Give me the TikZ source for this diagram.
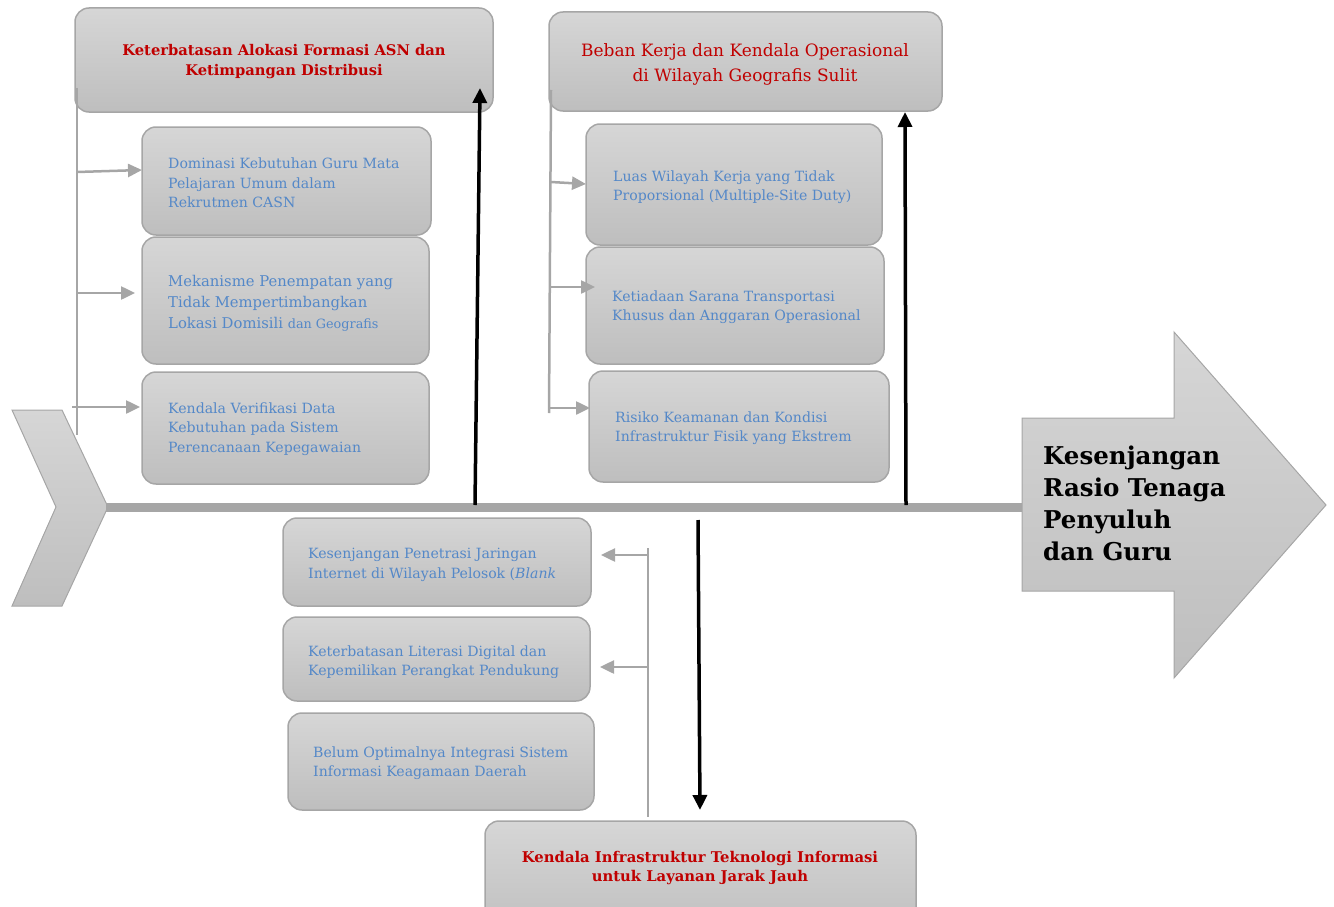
\documentclass[tikz,border=0pt]{standalone}
\usepackage{fontspec}
\setmainfont{DejaVu Serif}
\usetikzlibrary{arrows.meta}
\definecolor{redt}{RGB}{192,0,0}
\definecolor{bluet}{RGB}{84,136,200}
\definecolor{edgec}{RGB}{166,166,166}
\definecolor{topc}{RGB}{214,214,214}
\definecolor{botc}{RGB}{190,190,190}
\begin{document}
\begin{tikzpicture}[x=1pt,y=-1pt,
  boxc/.style={draw=edgec, line width=1.5pt, rounded corners=14pt, top color=topc, bottom color=botc},
  bt/.style={inner sep=0pt, align=left, text=bluet, font=\fontsize{14.1}{19.5}\selectfont, anchor=west},
  hb/.style={inner sep=0pt, align=center, text=redt, font=\bfseries\fontsize{14.7}{20}\selectfont},
  gline/.style={draw=edgec, line width=2.5pt},
  garr/.style={draw=edgec, line width=2.5pt, -{Triangle[length=14pt,width=13pt]}},
  barr/.style={draw=black, line width=3.5pt, -{Triangle[length=15pt,width=14pt]}}
]
\useasboundingbox (0,0) rectangle (1334,907);
\clip (0,0) rectangle (1334,907);

% tail chevron
\draw[draw=edgec, line width=1pt, top color=topc, bottom color=botc]
  (12,410) -- (62,410) -- (108,507) -- (62,606) -- (12,606) -- (56,507) -- cycle;
% spine
\coordinate (sp1) at (106,507);
\coordinate (sp2) at (1024,507);
\draw[draw=edgec, line width=9pt] (sp1) -- (sp2);
% head arrow
\draw[draw=edgec, line width=1pt, top color=topc, bottom color=botc]
  (1022,418) -- (1174,418) -- (1174,332) -- (1326,505) -- (1174,678) -- (1174,591) -- (1022,591) -- cycle;
\node[inner sep=0pt, align=left, anchor=west, font=\bfseries\fontsize{24.5}{32}\selectfont] (res) at (1043,503)
  {Kesenjangan\\Rasio Tenaga\\Penyuluh\\dan Guru};

% ---------- top-left group ----------
\draw[boxc] (75,8) rectangle (493,112);
\node[hb] (h1) at (284,62) {Keterbatasan Alokasi Formasi ASN dan\\Ketimpangan Distribusi};
\draw[boxc] (142,127) rectangle (431,235);
\node[bt] (a1) at (168,183) {Dominasi Kebutuhan Guru Mata\\Pelajaran Umum dalam\\Rekrutmen CASN};
\draw[boxc] (142,237) rectangle (429,364);
\node[bt, font=\fontsize{14.8}{21}\selectfont] (a2) at (168,303) {Mekanisme Penempatan yang\\Tidak Mempertimbangkan\\Lokasi Domisili {\fontsize{12.8}{14}\selectfont dan Geografis}};
\draw[boxc] (142,372) rectangle (429,484);
\node[bt] (a3) at (168,429) {Kendala Verifikasi Data\\Kebutuhan pada Sistem\\Perencanaan Kepegawaian};

\coordinate (l1t) at (77,88);
\coordinate (l1b) at (77,435);
\draw[gline] (l1t) -- (l1b);
\coordinate (l1a) at (77,172);  \coordinate (l1ae) at (142,170);
\coordinate (l1c) at (77,293);  \coordinate (l1ce) at (135,293);
\coordinate (l1d) at (72,407);  \coordinate (l1de) at (140,407);
\draw[garr] (l1a) -- (l1ae);
\draw[garr] (l1c) -- (l1ce);
\draw[garr] (l1d) -- (l1de);

\coordinate (b1s) at (475,505);
\coordinate (b1e) at (480,88);
\draw[barr] (b1s) -- (b1e);

% ---------- top-right group ----------
\draw[boxc] (549,12) rectangle (942,111);
\node[hb, font=\fontsize{17}{25}\selectfont] (h2) at (745,64) {Beban Kerja dan Kendala Operasional\\di Wilayah Geografis Sulit};
\draw[boxc] (586,124) rectangle (882,245);
\node[bt] (c1) at (613,187) {Luas Wilayah Kerja yang Tidak\\Proporsional (Multiple-Site Duty)};
\draw[boxc] (586,247) rectangle (884,364);
\node[bt] (c2) at (612,307) {Ketiadaan Sarana Transportasi\\Khusus dan Anggaran Operasional};
\draw[boxc] (589,371) rectangle (889,482);
\node[bt] (c3) at (615,428) {Risiko Keamanan dan Kondisi\\Infrastruktur Fisik yang Ekstrem};

\coordinate (l2t) at (551,90);
\coordinate (l2b) at (549,413);
\draw[gline] (l2t) -- (l2b);
\coordinate (l2a) at (551,182);  \coordinate (l2ae) at (586,184);
\coordinate (l2c) at (550,287);  \coordinate (l2ce) at (595,287);
\coordinate (l2d) at (548,408);  \coordinate (l2de) at (590,408);
\draw[garr] (l2a) -- (l2ae);
\draw[garr] (l2c) -- (l2ce);
\draw[garr] (l2d) -- (l2de);

\coordinate (b2s) at (906,505);
\coordinate (b2e) at (905,112);
\draw[barr] (b2s) -- (b2e);

% ---------- bottom group ----------
\draw[boxc] (485,821) rectangle (916,940);
\node[hb, font=\bfseries\fontsize{14.8}{19}\selectfont] (h3) at (700,868) {Kendala Infrastruktur Teknologi Informasi\\untuk Layanan Jarak Jauh};
\draw[boxc] (283,518) rectangle (591,606);
\node[bt] (d1) at (308,565) {Kesenjangan Penetrasi Jaringan\\Internet di Wilayah Pelosok (\textit{Blank}};
\draw[boxc] (283,617) rectangle (590,701);
\begin{scope}
\clip (283,617) rectangle (590,677);
\node[bt] (d2) at (308,662) {Keterbatasan Literasi Digital dan\\Kepemilikan Perangkat Pendukung};
\end{scope}
\draw[boxc] (288,713) rectangle (594,810);
\node[bt] (d3) at (313,763) {Belum Optimalnya Integrasi Sistem\\Informasi Keagamaan Daerah};

\coordinate (l3t) at (648,548);
\coordinate (l3b) at (648,817);
\draw[gline] (l3t) -- (l3b);
\coordinate (l3a) at (648,555);  \coordinate (l3ae) at (601,555);
\coordinate (l3c) at (648,667);  \coordinate (l3ce) at (600,667);
\draw[garr] (l3a) -- (l3ae);
\draw[garr] (l3c) -- (l3ce);

\coordinate (b3s) at (698,520);
\coordinate (b3e) at (700,810);
\draw[barr] (b3s) -- (b3e);
\end{tikzpicture}
\end{document}
